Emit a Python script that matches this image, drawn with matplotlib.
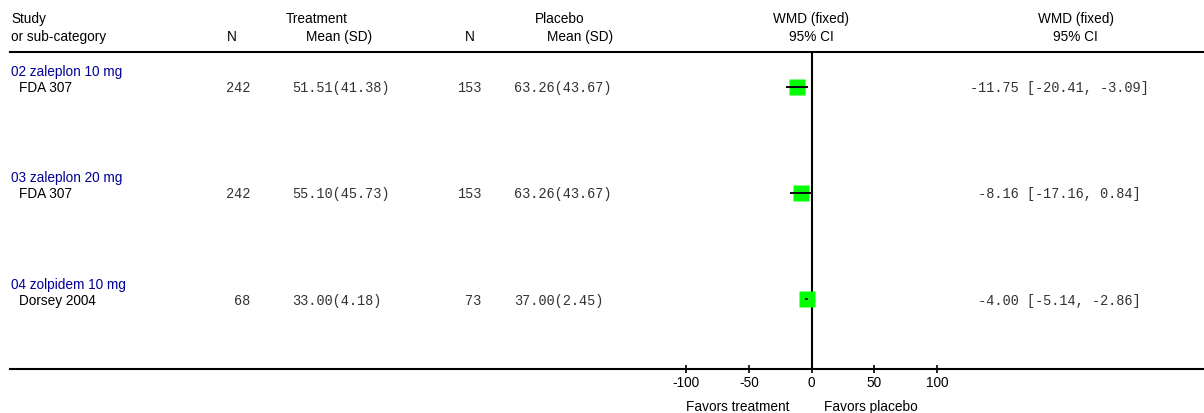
import matplotlib
matplotlib.use('Agg')
import matplotlib.pyplot as plt
from matplotlib.lines import Line2D

# 数据：三个亚组，每组一个研究
groups = ['02 zaleplon 10 mg', '03 zaleplon 20 mg', '04 zolpidem 10 mg']
studies = ['FDA 307', 'FDA 307', 'Dorsey 2004']
trt_n = [242, 242, 68]
trt_mean = [51.51, 55.10, 33.00]
trt_sd = [41.38, 45.73, 4.18]
pla_n = [153, 153, 73]
pla_mean = [63.26, 63.26, 37.00]
pla_sd = [43.67, 43.67, 2.45]
wmd = [-11.75, -8.16, -4.00]
ci_lo = [-20.41, -17.16, -5.14]
ci_hi = [-3.09, 0.84, -2.86]
xticks = [-100, -50, 0, 50, 100]

# 画布按像素布局
W, H = 1204, 414
ROW0, STEP = 87.6, 106.3   # 第一行中心和行距（像素）
TOP, BOT = 52.7, 370       # 上下两条横线
SANS = 'Liberation Sans'
MONO = 'Liberation Mono'
BLUE = '#000099'
GREY = '#333333'

fig = plt.figure(figsize=(W / 100, H / 100), dpi=100)


def px(x):
    return x / W


def py(y):
    return 1 - y / H


def txt(x, y, s, ha='left', font=SANS, size=9.8, color='black'):
    fig.text(px(x), py(y), s, ha=ha, va='baseline', family=font, fontsize=size, color=color)


# 表头
txt(11, 22.7, 'Study')
txt(11, 40.7, 'or sub-category')
txt(317, 22.7, 'Treatment', ha='center')
txt(232, 40.7, 'N', ha='center')
txt(339, 40.7, 'Mean (SD)', ha='center')
txt(560, 22.7, 'Placebo', ha='center')
txt(470, 40.7, 'N', ha='center')
txt(580, 40.7, 'Mean (SD)', ha='center')
txt(811, 22.7, 'WMD (fixed)', ha='center')
txt(811, 40.7, '95% CI', ha='center')
txt(1075.5, 22.7, 'WMD (fixed)', ha='center')
txt(1075.5, 40.7, '95% CI', ha='center')

# 上下两条横线
fig.add_artist(Line2D([px(10), 1], [py(TOP), py(TOP)], color='black', lw=1.5))
fig.add_artist(Line2D([px(10), 1], [py(BOT), py(BOT)], color='black', lw=1.5))

# 表格每一行
for i in range(len(studies)):
    yc = ROW0 + i * STEP
    txt(11, yc - 11.6, groups[i], color=BLUE)
    txt(19, yc + 4.5, studies[i])
    txt(250, yc + 4.5, '%d' % trt_n[i], ha='right', font=MONO, color=GREY)
    txt(292, yc + 4.5, '%.2f(%.2f)' % (trt_mean[i], trt_sd[i]), font=MONO, color=GREY)
    txt(481, yc + 4.5, '%d' % pla_n[i], ha='right', font=MONO, color=GREY)
    txt(514, yc + 4.5, '%.2f(%.2f)' % (pla_mean[i], pla_sd[i]), font=MONO, color=GREY)
    est = '%.2f' % wmd[i]
    txt(970, yc + 4.5, '%6s [%.2f, %.2f]' % (est, ci_lo[i], ci_hi[i]), font=MONO, color=GREY)

# 森林图区域
x0, x1 = 686, 937.3
ax = fig.add_axes([px(x0), py(BOT), px(x1 - x0), (BOT - TOP) / H])
ax.set_xlim(-100, 100)
ax.set_ylim((BOT - ROW0) / STEP, (TOP - ROW0) / STEP)
for s in ax.spines.values():
    s.set_visible(False)
ax.patch.set_visible(False)

rows = list(range(len(wmd)))
ax.axvline(0, color='black', lw=1.5, zorder=1)
ax.plot(wmd, rows, 's', ms=12, color='#00ff00', mec='none', zorder=2)
ax.hlines(rows, ci_lo, ci_hi, color='black', lw=1.4, zorder=3)

ax.set_yticks([])
ax.set_xticks(xticks)
ax.set_xticklabels(['%d' % t for t in xticks], family=SANS, fontsize=9.8)
ax.tick_params(axis='x', direction='inout', length=6, width=1.2, pad=1.5)

txt(789, 411, 'Favors treatment', ha='right')
txt(824, 411, 'Favors placebo')

plt.savefig('out.png', dpi=100)
